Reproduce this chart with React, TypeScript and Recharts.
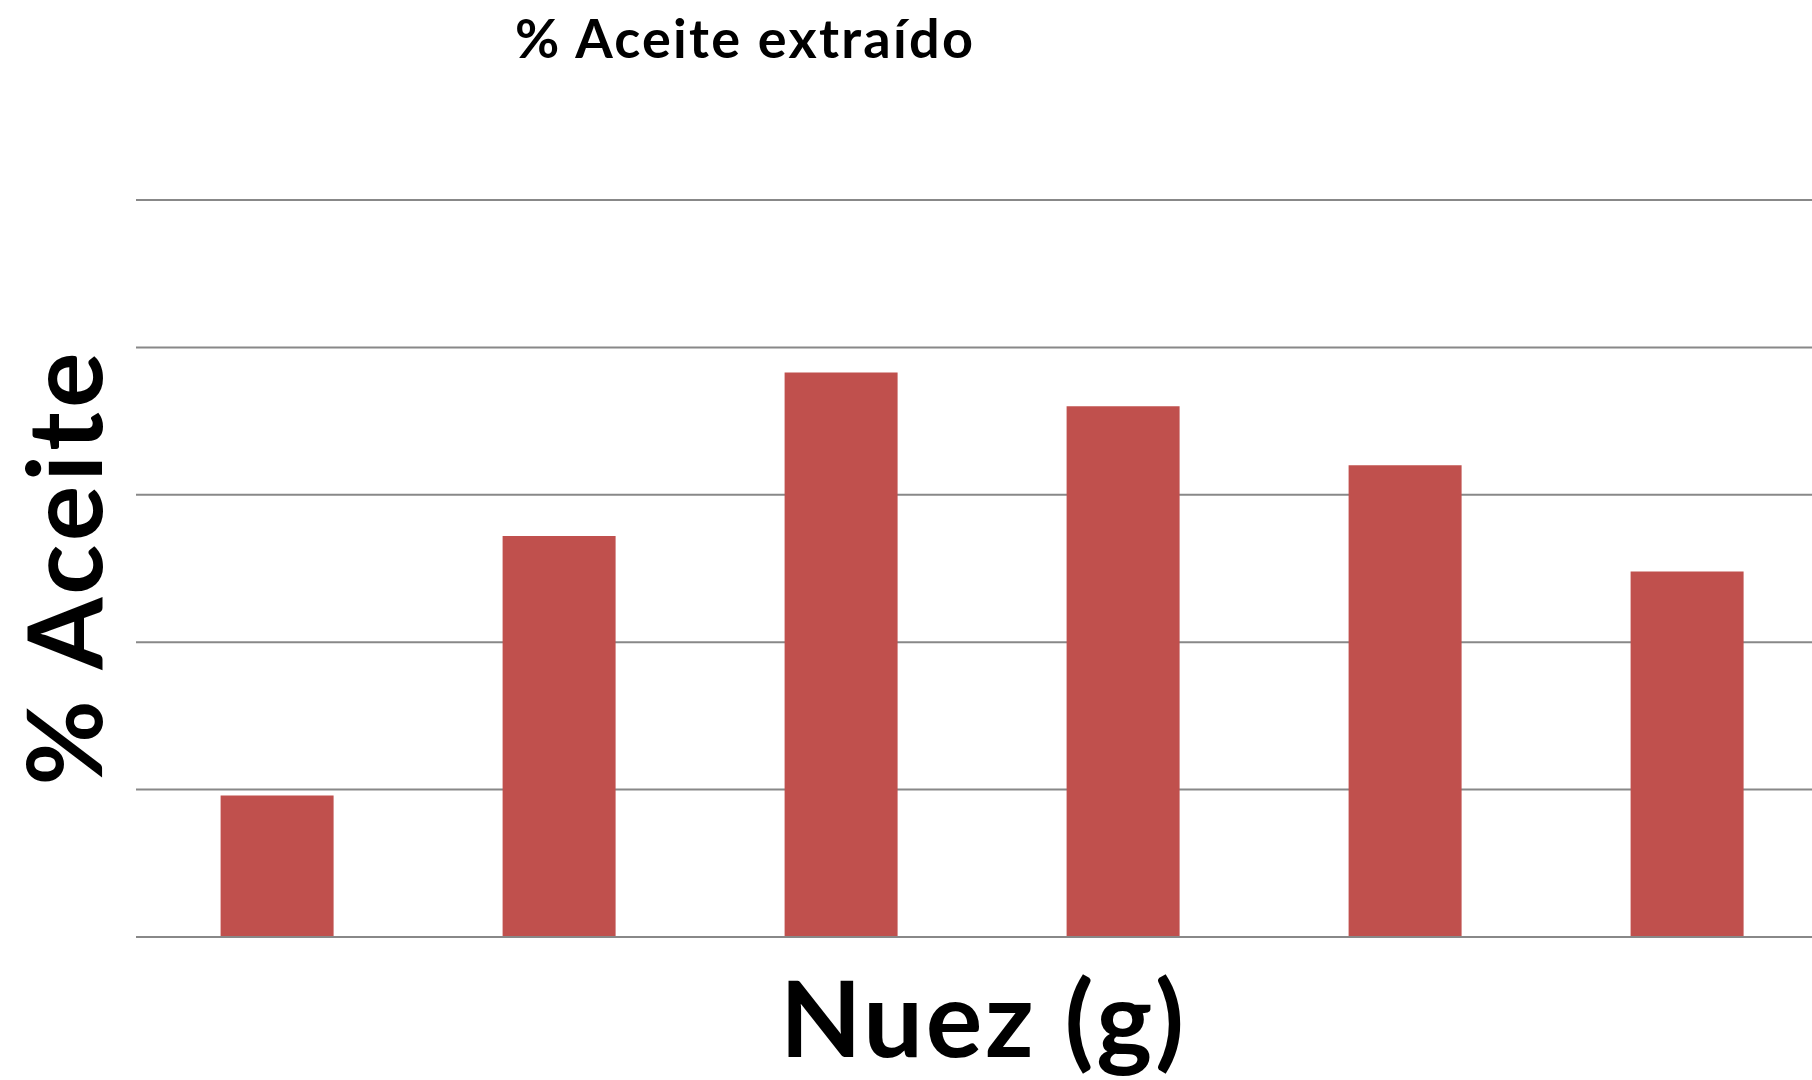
import React from "react";
import { BarChart, Bar, XAxis, YAxis, CartesianGrid } from "recharts";

const categories = ["1", "2", "3", "4", "5", "6"];
const values = [0.96, 2.72, 3.83, 3.6, 3.2, 2.48];
const yTicks = [0, 1, 2, 3, 4, 5];

const data = categories.map((c, i) => ({ name: c, value: values[i] }));

const FONT = "Lato, 'Open Sans', sans-serif";

const NoTick = () => <g />;

export default function App() {
  return (
    <div
      style={{
        position: "absolute",
        left: 0,
        top: 0,
        width: 1812,
        height: 1080,
        overflow: "hidden",
        background: "#fff",
      }}
    >
      <BarChart
        width={1828}
        height={1080}
        data={data}
        margin={{ top: 200, right: 0, bottom: 141, left: 135 }}
        barCategoryGap="30%"
      >
        <CartesianGrid vertical={false} stroke="#888888" strokeWidth={2} />
        <XAxis
          dataKey="name"
          height={2}
          tick={false}
          tickLine={false}
          axisLine={{ stroke: "#888888", strokeWidth: 2 }}
        />
        <YAxis
          width={1}
          domain={[0, 5]}
          ticks={yTicks}
          tick={NoTick}
          tickLine={false}
          axisLine={false}
        />
        <Bar dataKey="value" fill="#C0504D" isAnimationActive={false} />
      </BarChart>
      <svg
        width={1812}
        height={1080}
        style={{ position: "absolute", left: 0, top: 0, pointerEvents: "none" }}
      >
        <text
          x={744}
          y={58}
          textAnchor="middle"
          fontFamily={FONT}
          fontWeight={700}
          fontSize={54}
          textLength={458}
          lengthAdjust="spacing"
          fill="#000"
        >
          % Aceite extraído
        </text>
        <text
          x={982}
          y={1057}
          textAnchor="middle"
          fontFamily={FONT}
          fontWeight={700}
          fontSize={106}
          textLength={404}
          lengthAdjust="spacing"
          fill="#000"
        >
          Nuez (g)
        </text>
        <text
          x={102}
          y={569}
          textAnchor="middle"
          transform="rotate(-90, 102, 569)"
          fontFamily={FONT}
          fontWeight={700}
          fontSize={104}
          textLength={433}
          lengthAdjust="spacing"
          fill="#000"
        >
          % Aceite
        </text>
      </svg>
    </div>
  );
}
